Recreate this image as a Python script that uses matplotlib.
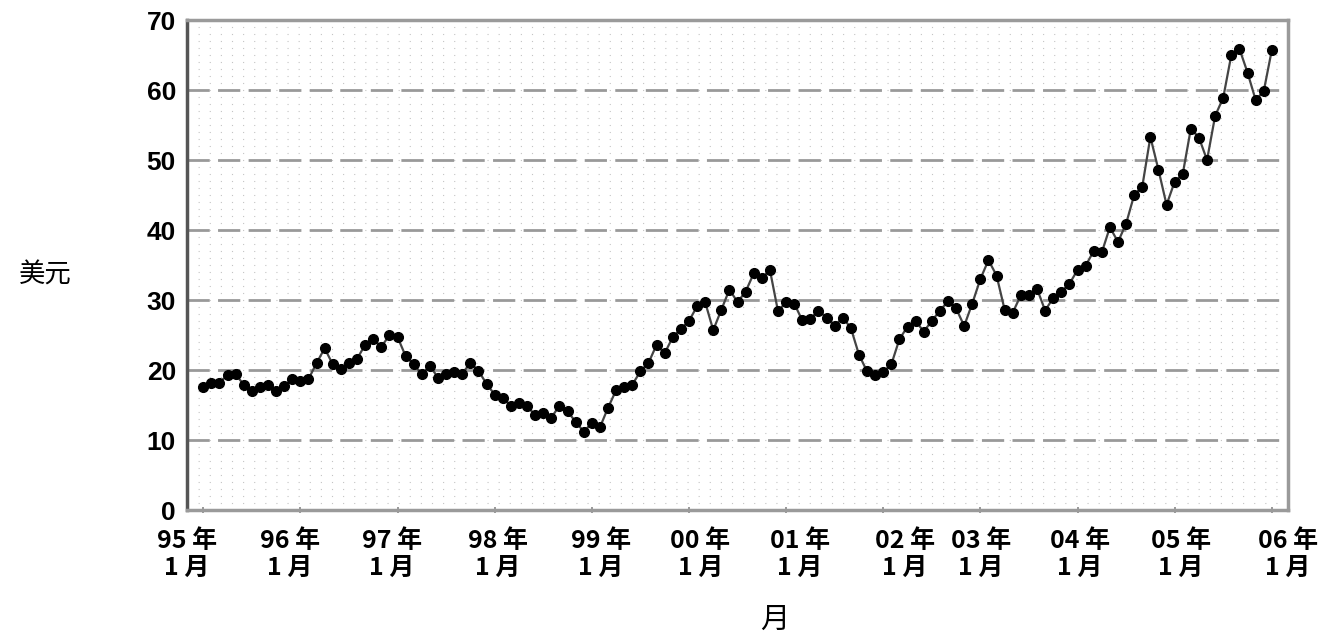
import numpy as np
import matplotlib
matplotlib.use("Agg")
import matplotlib.pyplot as plt

plt.rcParams['font.family'] = ['Noto Sans CJK SC', 'DejaVu Sans']

# Monthly price (USD), Jan 1995 .. Jan 2006
p1995 = [17.6, 18.1, 18.2, 19.3, 19.4, 17.9, 17.0, 17.6, 17.8, 17.0, 17.7, 18.7]
p1996 = [18.5, 18.7, 21.0, 23.1, 20.8, 20.1, 21.0, 21.6, 23.6, 24.4, 23.3, 25.0]
p1997 = [24.7, 22.0, 20.8, 19.4, 20.6, 18.9, 19.4, 19.7, 19.5, 21.0, 19.9, 18.0]
p1998 = [16.5, 16.0, 14.9, 15.3, 14.8, 13.6, 13.9, 13.2, 14.9, 14.1, 12.6, 11.2]
p1999 = [12.4, 11.8, 14.6, 17.1, 17.6, 17.9, 19.8, 21.0, 23.6, 22.4, 24.7, 25.9]
p2000 = [27.0, 29.1, 29.7, 25.7, 28.6, 31.5, 29.7, 31.2, 33.8, 33.1, 34.3, 28.4]
p2001 = [29.7, 29.5, 27.1, 27.3, 28.5, 27.5, 26.3, 27.5, 26.0, 22.2, 19.8, 19.3]
p2002 = [19.7, 20.8, 24.4, 26.2, 27.0, 25.5, 27.0, 28.5, 29.8, 28.8, 26.3, 29.5]
p2003 = [33.0, 35.7, 33.5, 28.6, 28.2, 30.7, 30.7, 31.6, 28.5, 30.3, 31.2, 32.3]
p2004 = [34.3, 34.9, 37.0, 36.8, 40.4, 38.3, 40.9, 45.0, 46.2, 53.3, 48.6, 43.6]
p2005 = [46.9, 48.0, 54.5, 53.2, 50.0, 56.3, 58.9, 65.0, 65.9, 62.5, 58.6, 59.8]
p2006 = [65.7]

prices = p1995 + p1996 + p1997 + p1998 + p1999 + p2000 + p2001 + p2002 + p2003 + p2004 + p2005 + p2006
months = np.arange(len(prices))

year_labels = ['95 年\n1 月', '96 年\n1 月', '97 年\n1 月', '98 年\n1 月', '99 年\n1 月', '00 年\n1 月',
               '01 年\n1 月', '02 年\n1 月', '03 年\n1 月', '04 年\n1 月', '05 年\n1 月', '06 年\n1 月']
# where the labels sit (in months), the original spacing is a bit uneven
label_pos = [-2.0, 10.7, 23.3, 36.4, 49.1, 61.4, 73.7, 86.7, 96.1, 108.3, 120.8, 134.0]
y_ticks = [0, 10, 20, 30, 40, 50, 60, 70]

fig = plt.figure(figsize=(13.39, 6.42), dpi=100)
ax = fig.add_axes([0.1397, 0.2056, 0.8222, 0.7632])

# halftone-like dotted background
for yv in np.arange(1, 70, 1):
    ax.axhline(yv, color='#c4c4c4', lw=0.8, linestyle=(0, (1, 9)), zorder=0)
# dashed gridlines
for yv in y_ticks[1:-1]:
    ax.axhline(yv, color='#999999', lw=2.0, linestyle=(0, (8, 3)), zorder=1)

ax.plot(months, prices, color='#444444', lw=1.6, marker='o', markersize=7,
        markerfacecolor='black', markeredgecolor='black', zorder=3)

ax.set_xlim(-0.25, 132.5)
ax.set_ylim(0, 70)

ax.set_yticks(y_ticks)
ax.set_yticklabels([str(v) for v in y_ticks], fontsize=19, fontweight='bold',
                   family=['Liberation Sans', 'DejaVu Sans'])
ax.tick_params(axis='y', length=0, pad=8)

ax.set_xticks(label_pos)
ax.set_xticklabels(year_labels, fontsize=18, fontweight='bold', linespacing=1.15)
ax.set_xticks(np.arange(0, 133, 12), minor=True)
ax.tick_params(axis='x', which='major', length=0, pad=14)
ax.tick_params(axis='x', which='minor', length=4, width=1.2, color='#888888', direction='inout')

for side in ['top', 'bottom', 'right']:
    ax.spines[side].set_color('#9a9a9a')
    ax.spines[side].set_linewidth(2.5)
ax.spines['left'].set_color('#555555')
ax.spines['left'].set_linewidth(2.5)

ax.set_ylabel('美元', rotation=0, fontsize=19, va='center', ha='center')
ax.yaxis.set_label_coords(-0.129, 0.48)
ax.set_xlabel('月', fontsize=21, va='center')
ax.xaxis.set_label_coords(0.534, -0.225)

fig.savefig('out.png', dpi=100)
